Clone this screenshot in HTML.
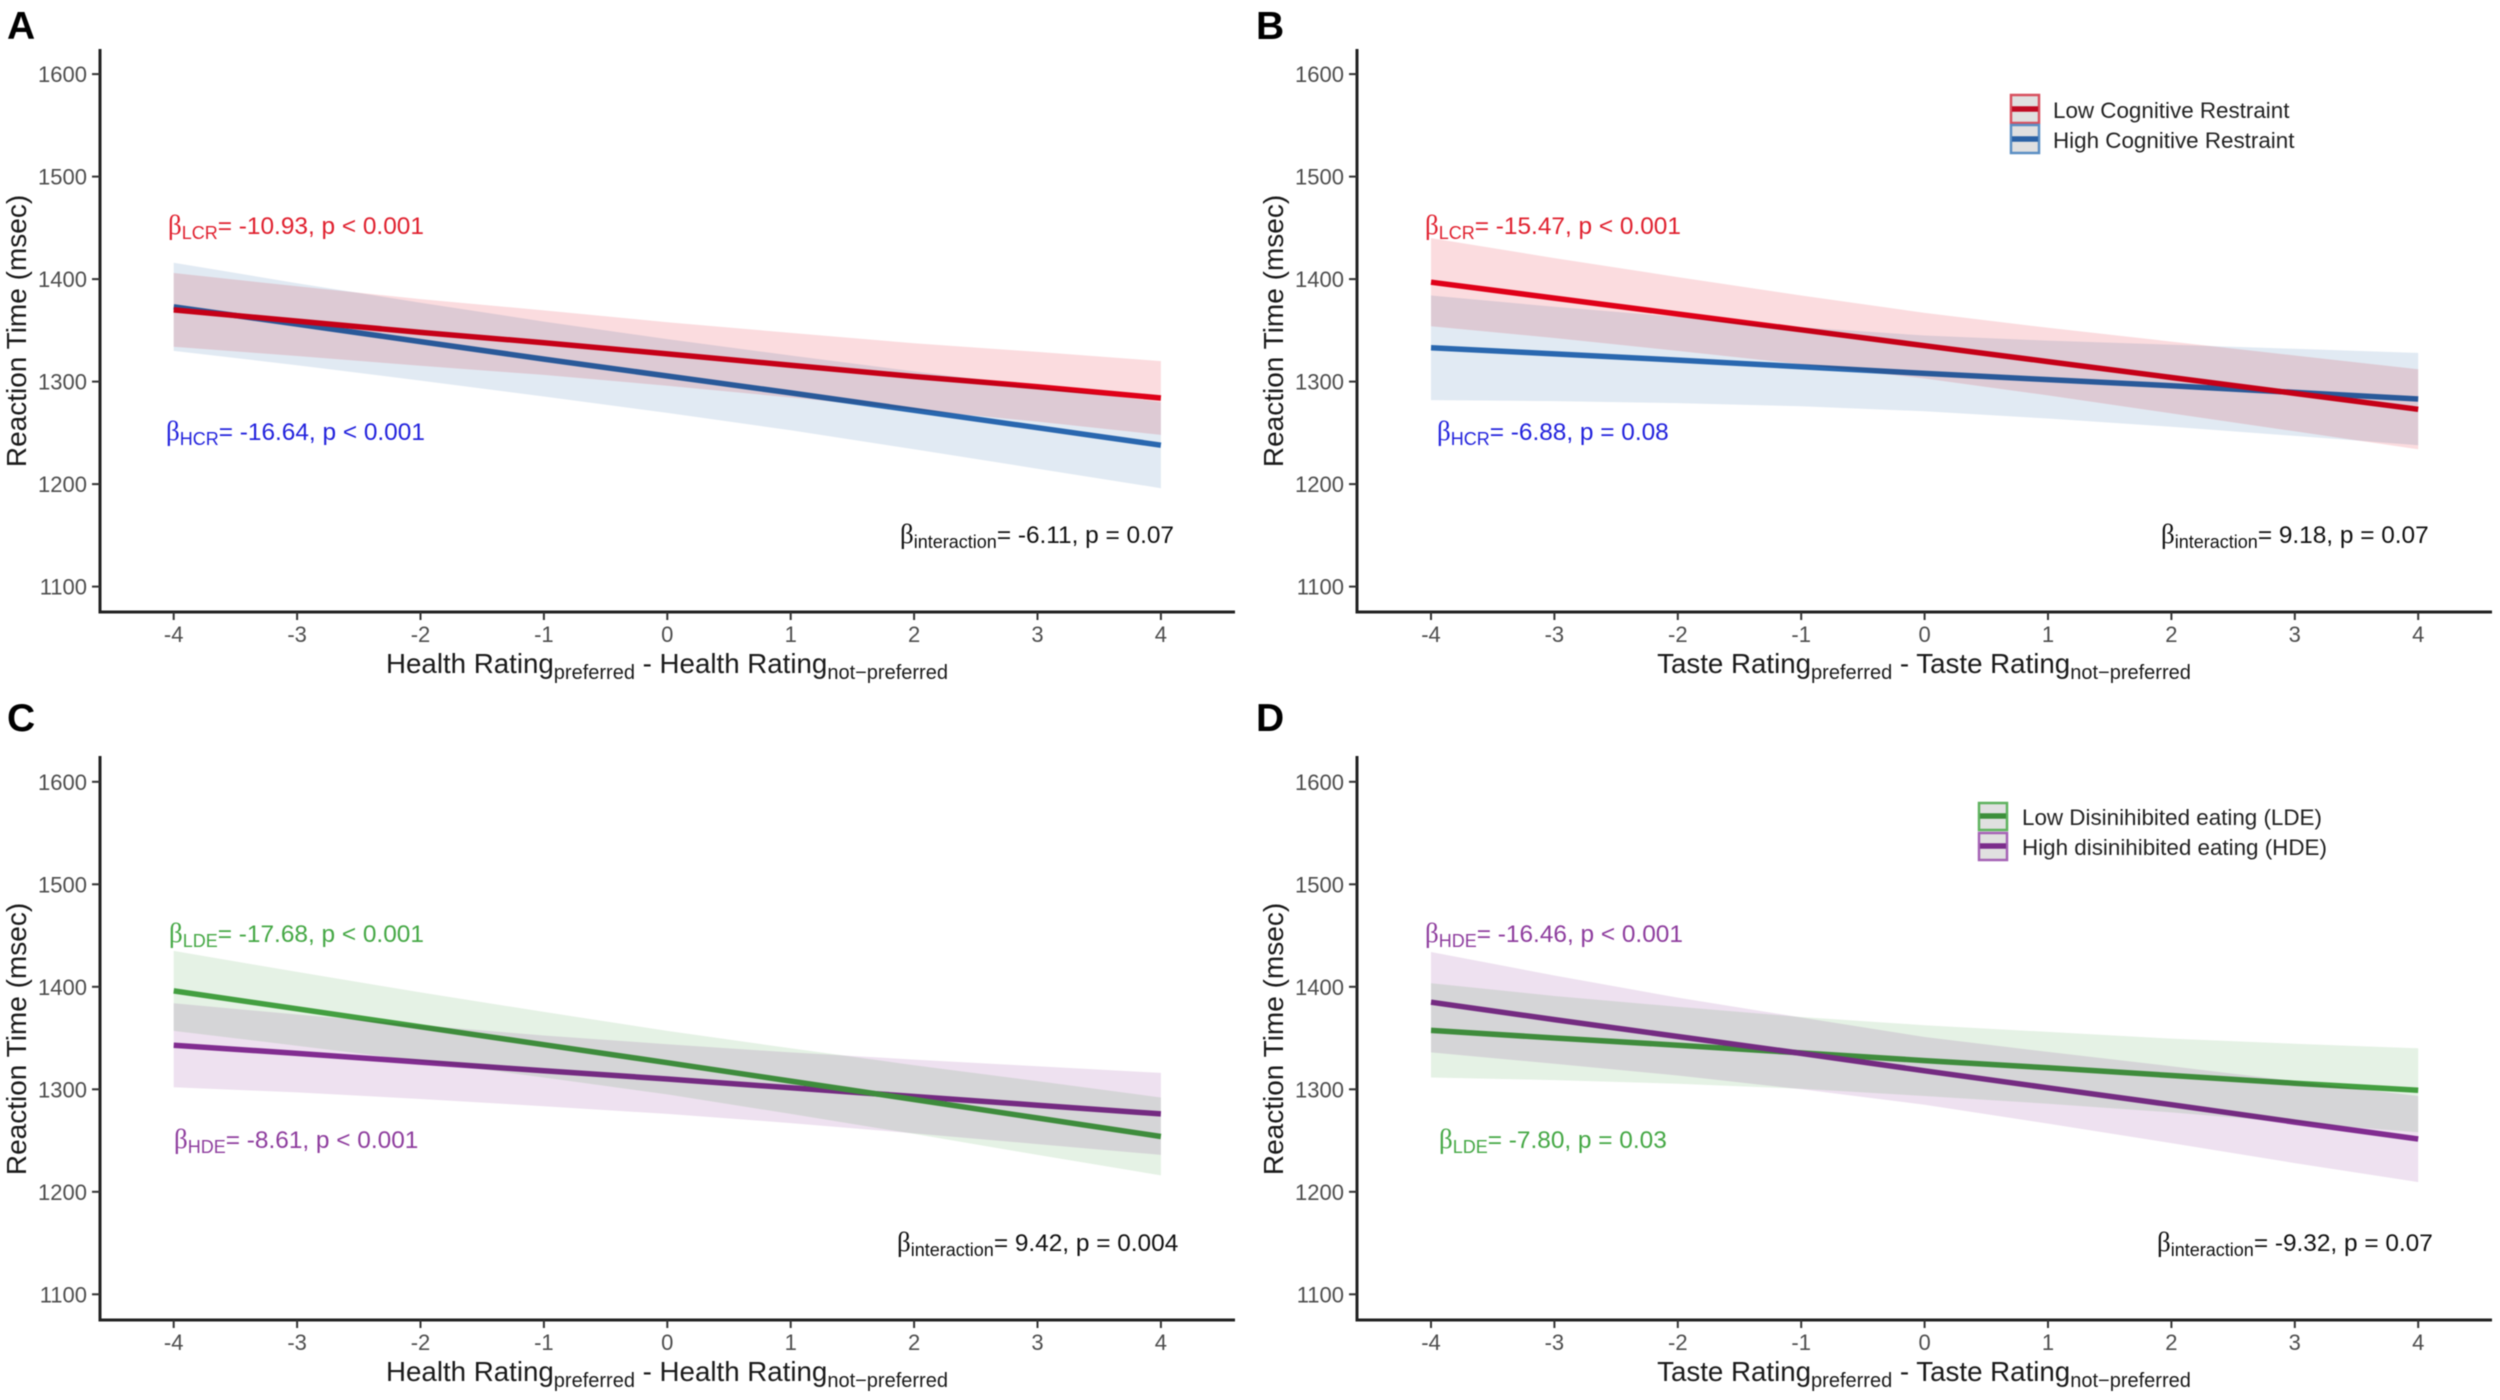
<!DOCTYPE html>
<html lang="en">
<head>
<meta charset="utf-8">
<title>Reaction time by rating difference</title>
<style>
html,body{margin:0;padding:0;background:#fff;}
svg{display:block;font-family:"Liberation Sans",sans-serif;filter:blur(0.6px);}
.letter{font-size:39px;font-weight:bold;fill:#000;}
.ytitle,.xtitle{font-size:28px;fill:#1a1a1a;}
.xtitle{font-size:27.7px;}
.sub{font-size:20px;}
.ann{font-size:24.4px;}
.annsub{font-size:18px;}
.beta{font-family:"Liberation Serif",serif;font-size:27px;}
.leg{font-size:22.4px;fill:#222;}
.tick{font-size:22px;fill:#4d4d4d;}
.ribbon{mix-blend-mode:multiply;}
</style>
</head>
<body>
<svg id="figure" width="2500" height="1400" viewBox="0 0 2500 1400" xmlns="http://www.w3.org/2000/svg">
  <rect width="2500" height="1400" fill="#fff"/>

  <g id="marks"></g>

  <text class="letter" x="7" y="39">A</text>
  <text class="letter" x="1256" y="39">B</text>
  <text class="letter" x="7" y="731">C</text>
  <text class="letter" x="1256" y="731">D</text>

  <text class="ytitle" transform="translate(26,331) rotate(-90)" text-anchor="middle">Reaction Time (msec)</text>
  <text class="ytitle" transform="translate(1283,331) rotate(-90)" text-anchor="middle">Reaction Time (msec)</text>
  <text class="ytitle" transform="translate(26,1039) rotate(-90)" text-anchor="middle">Reaction Time (msec)</text>
  <text class="ytitle" transform="translate(1283,1039) rotate(-90)" text-anchor="middle">Reaction Time (msec)</text>

  <text class="xtitle" x="667" y="673" text-anchor="middle">Health Rating<tspan class="sub" dy="6">preferred</tspan><tspan dy="-6"> - Health Rating</tspan><tspan class="sub" dy="6">not−preferred</tspan></text>
  <text class="xtitle" x="1924" y="673" text-anchor="middle">Taste Rating<tspan class="sub" dy="6">preferred</tspan><tspan dy="-6"> - Taste Rating</tspan><tspan class="sub" dy="6">not−preferred</tspan></text>
  <text class="xtitle" x="667" y="1381" text-anchor="middle">Health Rating<tspan class="sub" dy="6">preferred</tspan><tspan dy="-6"> - Health Rating</tspan><tspan class="sub" dy="6">not−preferred</tspan></text>
  <text class="xtitle" x="1924" y="1381" text-anchor="middle">Taste Rating<tspan class="sub" dy="6">preferred</tspan><tspan dy="-6"> - Taste Rating</tspan><tspan class="sub" dy="6">not−preferred</tspan></text>

  <text class="ann" x="168" y="234" fill="#e0202e"><tspan class="beta">β</tspan><tspan class="annsub" dy="5">LCR</tspan><tspan dy="-5">= -10.93, p &lt; 0.001</tspan></text>
  <text class="ann" x="166" y="440" fill="#2222dd"><tspan class="beta">β</tspan><tspan class="annsub" dy="5">HCR</tspan><tspan dy="-5">= -16.64, p &lt; 0.001</tspan></text>
  <text class="ann" x="900" y="543" fill="#111"><tspan class="beta">β</tspan><tspan class="annsub" dy="5">interaction</tspan><tspan dy="-5">= -6.11, p = 0.07</tspan></text>

  <text class="ann" x="1425" y="234" fill="#e0202e"><tspan class="beta">β</tspan><tspan class="annsub" dy="5">LCR</tspan><tspan dy="-5">= -15.47, p &lt; 0.001</tspan></text>
  <text class="ann" x="1437" y="440" fill="#2222dd"><tspan class="beta">β</tspan><tspan class="annsub" dy="5">HCR</tspan><tspan dy="-5">= -6.88, p = 0.08</tspan></text>
  <text class="ann" x="2161" y="543" fill="#111"><tspan class="beta">β</tspan><tspan class="annsub" dy="5">interaction</tspan><tspan dy="-5">= 9.18, p = 0.07</tspan></text>

  <text class="ann" x="169" y="942" fill="#45a845"><tspan class="beta">β</tspan><tspan class="annsub" dy="5">LDE</tspan><tspan dy="-5">= -17.68, p &lt; 0.001</tspan></text>
  <text class="ann" x="174" y="1148" fill="#8e3d9e"><tspan class="beta">β</tspan><tspan class="annsub" dy="5">HDE</tspan><tspan dy="-5">= -8.61, p &lt; 0.001</tspan></text>
  <text class="ann" x="897" y="1251" fill="#111"><tspan class="beta">β</tspan><tspan class="annsub" dy="5">interaction</tspan><tspan dy="-5">= 9.42, p = 0.004</tspan></text>

  <text class="ann" x="1425" y="942" fill="#8e3d9e"><tspan class="beta">β</tspan><tspan class="annsub" dy="5">HDE</tspan><tspan dy="-5">= -16.46, p &lt; 0.001</tspan></text>
  <text class="ann" x="1439" y="1148" fill="#45a845"><tspan class="beta">β</tspan><tspan class="annsub" dy="5">LDE</tspan><tspan dy="-5">= -7.80, p = 0.03</tspan></text>
  <text class="ann" x="2157" y="1251" fill="#111"><tspan class="beta">β</tspan><tspan class="annsub" dy="5">interaction</tspan><tspan dy="-5">= -9.32, p = 0.07</tspan></text>

  <g>
    <g>
      <rect x="2011" y="95" width="28" height="28" fill="#e0e0e0" stroke="#d8505f" stroke-width="2.5"/>
      <line x1="2012" x2="2038" y1="109" y2="109" stroke="#c00a22" stroke-width="5.5"/>
      <text class="leg" x="2053" y="118">Low Cognitive Restraint</text>
    </g>
    <g>
      <rect x="2011" y="125" width="28" height="28" fill="#e0e0e0" stroke="#5c8fc4" stroke-width="2.5"/>
      <line x1="2012" x2="2038" y1="139" y2="139" stroke="#2a62a5" stroke-width="5.5"/>
      <text class="leg" x="2053" y="148">High Cognitive Restraint</text>
    </g>
  </g>
  <g>
    <g>
      <rect x="1979" y="803" width="28" height="27" fill="#e0e0e0" stroke="#5fb35f" stroke-width="2.5"/>
      <line x1="1980" x2="2006" y1="816" y2="816" stroke="#3c8f3a" stroke-width="5.5"/>
      <text class="leg" x="2022" y="825">Low Disinihibited eating (LDE)</text>
    </g>
    <g>
      <rect x="1979" y="833" width="28" height="27" fill="#e0e0e0" stroke="#a563b5" stroke-width="2.5"/>
      <line x1="1980" x2="2006" y1="846" y2="846" stroke="#7b2d8b" stroke-width="5.5"/>
      <text class="leg" x="2022" y="855">High disinihibited eating (HDE)</text>
    </g>
  </g>
</svg>

<script>
// Shared axis values
const ratingDiff = [-4, -3, -2, -1, 0, 1, 2, 3, 4];
const yTickValues = [1100, 1200, 1300, 1400, 1500, 1600];

// Panel A: health rating by cognitive restraint
const aLcrFit = [1370, 1359, 1348, 1338, 1327, 1316, 1305, 1295, 1284];
const aLcrUpper = [1406, 1393, 1380.5, 1369.5, 1358, 1347.5, 1337.5, 1329, 1320];
const aLcrLower = [1334, 1325, 1315.5, 1306.5, 1296, 1284.5, 1272.5, 1261, 1248];
const aHcrFit = [1373, 1356, 1339, 1322, 1305.5, 1289, 1272, 1255, 1238];
const aHcrUpper = [1416, 1396, 1377, 1358.5, 1341.5, 1325.5, 1310, 1295, 1280];
const aHcrLower = [1330, 1316, 1301, 1285.5, 1269.5, 1252.5, 1234, 1215, 1196];

// Panel B: taste rating by cognitive restraint
const bLcrFit = [1397, 1381.5, 1366, 1350.5, 1335, 1319.5, 1304, 1288.5, 1273];
const bLcrUpper = [1440, 1420.5, 1402, 1384, 1367, 1352.5, 1339, 1325.5, 1312];
const bLcrLower = [1354, 1342.5, 1330, 1317, 1303, 1286.5, 1269, 1251.5, 1234];
const bHcrFit = [1333, 1327, 1321, 1314.5, 1308, 1302, 1296, 1289.5, 1283];
const bHcrUpper = [1384, 1373, 1363, 1353, 1345, 1340, 1336, 1332, 1328];
const bHcrLower = [1282, 1281, 1279, 1276, 1271, 1264, 1256, 1247, 1238];

// Panel C: health rating by disinhibited eating
const cLdeFit = [1396, 1378.5, 1361, 1343.5, 1326, 1308, 1290, 1272, 1254];
const cLdeUpper = [1435, 1414.5, 1394.5, 1375.5, 1357, 1340, 1323.5, 1308, 1292];
const cLdeLower = [1357, 1342.5, 1327.5, 1311.5, 1295, 1276, 1256.5, 1236, 1216];
const cHdeFit = [1343, 1335, 1326.5, 1318, 1310, 1301.5, 1293, 1284.5, 1276];
const cHdeUpper = [1384, 1373, 1362.5, 1352.5, 1344, 1336, 1329, 1322.5, 1316];
const cHdeLower = [1302, 1297, 1290.5, 1283.5, 1276, 1267, 1257, 1246.5, 1236];

// Panel D: taste rating by disinhibited eating
const dLdeFit = [1357.5, 1350, 1343, 1335.5, 1328, 1321, 1313.5, 1306, 1299];
const dLdeUpper = [1403.5, 1391, 1380.5, 1370.5, 1362.5, 1356, 1349.5, 1344.5, 1340];
const dLdeLower = [1311.5, 1309, 1305.5, 1300.5, 1293.5, 1286, 1277.5, 1267.5, 1258];
const dHdeFit = [1385, 1368, 1351.5, 1335, 1318, 1301.5, 1285, 1268, 1251.5];
const dHdeUpper = [1434, 1411, 1389.5, 1370, 1351, 1336.5, 1322.5, 1308, 1293.5];
const dHdeLower = [1336, 1325, 1313.5, 1300, 1285, 1266.5, 1247.5, 1228, 1209.5];

const RED = {line: '#e3001b', ribbon: '#fbdcdf'};
const BLUE = {line: '#2e70b8', ribbon: '#e1eaf3'};
const GREEN = {line: '#4aa847', ribbon: '#e5f2e5'};
const PURPLE = {line: '#8a3299', ribbon: '#eee1f0'};

const panels = [
  {id: 'a', axisX: 100, axisEnd: 1235, axisTop: 49, axisY: 612, xAtMin: 173.7, yAt1100: 586.6, series: [
    {name: 'hcr', color: BLUE, fit: aHcrFit, upper: aHcrUpper, lower: aHcrLower},
    {name: 'lcr', color: RED, fit: aLcrFit, upper: aLcrUpper, lower: aLcrLower}]},
  {id: 'b', axisX: 1357, axisEnd: 2492, axisTop: 49, axisY: 612, xAtMin: 1431, yAt1100: 586.6, series: [
    {name: 'hcr', color: BLUE, fit: bHcrFit, upper: bHcrUpper, lower: bHcrLower},
    {name: 'lcr', color: RED, fit: bLcrFit, upper: bLcrUpper, lower: bLcrLower}]},
  {id: 'c', axisX: 100, axisEnd: 1235, axisTop: 756, axisY: 1320, xAtMin: 173.7, yAt1100: 1294.3, series: [
    {name: 'hde', color: PURPLE, fit: cHdeFit, upper: cHdeUpper, lower: cHdeLower},
    {name: 'lde', color: GREEN, fit: cLdeFit, upper: cLdeUpper, lower: cLdeLower}]},
  {id: 'd', axisX: 1357, axisEnd: 2492, axisTop: 756, axisY: 1320, xAtMin: 1431, yAt1100: 1294.3, series: [
    {name: 'lde', color: GREEN, fit: dLdeFit, upper: dLdeUpper, lower: dLdeLower},
    {name: 'hde', color: PURPLE, fit: dHdeFit, upper: dHdeUpper, lower: dHdeLower}]}
];

const NS = 'http://www.w3.org/2000/svg';
const X_UNIT = 123.4;
const Y_UNIT = 1.025;
const root = document.getElementById('marks');

function xScale(panel, v) { return panel.xAtMin + (v - ratingDiff[0]) * X_UNIT; }
function yScale(panel, v) { return panel.yAt1100 - (v - yTickValues[0]) * Y_UNIT; }

function make(parent, tag, props) {
  const el = document.createElementNS(NS, tag);
  for (const k in props) el.setAttribute(k, props[k]);
  parent.appendChild(el);
  return el;
}

panels.forEach(function (p) {
  const g = make(root, 'g', {});
  
  

  // Fitted lines go first: the ribbons multiply over them, as in the figure
  p.series.forEach(function (s) {
    const pts = ratingDiff.map(function (x, i) {
      return xScale(p, x).toFixed(1) + ',' + yScale(p, s.fit[i]).toFixed(1);
    }).join(' ');
    const line = make(g, 'polyline', {points: pts, fill: 'none', stroke: s.color.line, 'stroke-width': 5.5});
    
    
  });

  p.series.forEach(function (s) {
    const top = ratingDiff.map(function (x, i) {
      return xScale(p, x).toFixed(1) + ',' + yScale(p, s.upper[i]).toFixed(1);
    });
    const bottom = ratingDiff.map(function (x, i) {
      return xScale(p, x).toFixed(1) + ',' + yScale(p, s.lower[i]).toFixed(1);
    }).reverse();
    const band = make(g, 'polygon', {points: top.concat(bottom).join(' '), fill: s.color.ribbon, 'class': 'ribbon'});
    
    
  });

  const yAxis = make(g, 'line', {x1: p.axisX, x2: p.axisX, y1: p.axisTop, y2: p.axisY + 1.5, stroke: '#222', 'stroke-width': 3});
  
  

  const xAxis = make(g, 'line', {x1: p.axisX, x2: p.axisEnd, y1: p.axisY, y2: p.axisY, stroke: '#222', 'stroke-width': 3});
  
  

  yTickValues.forEach(function (v) {
    const y = yScale(p, v);
    const mark = make(g, 'line', {x1: p.axisX - 8, x2: p.axisX, y1: y, y2: y, stroke: '#333', 'stroke-width': 2});
    
    
    const label = make(g, 'text', {x: p.axisX - 13, y: y + 8, 'text-anchor': 'end', 'class': 'tick'});
    label.textContent = String(v);
    
    
  });

  ratingDiff.forEach(function (v) {
    const x = xScale(p, v);
    const mark = make(g, 'line', {x1: x, x2: x, y1: p.axisY, y2: p.axisY + 8, stroke: '#333', 'stroke-width': 2});
    
    
    const label = make(g, 'text', {x: x, y: p.axisY + 30, 'text-anchor': 'middle', 'class': 'tick'});
    label.textContent = String(v);
    
    
  });
});
</script>
</body>
</html>
